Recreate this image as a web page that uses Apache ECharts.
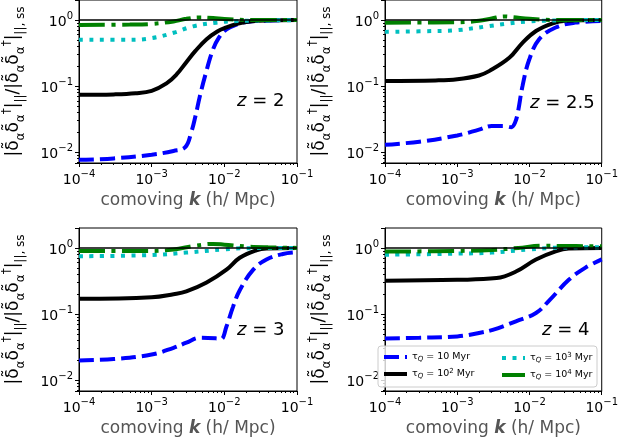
<!DOCTYPE html>
<html><head><meta charset="utf-8">
<script src="https://cdn.jsdelivr.net/npm/echarts@6/dist/echarts.min.js"></script>
<style>html,body{margin:0;padding:0;background:#fff}#c{width:621px;height:448px}</style>
</head><body><div id="c"></div>
<script>
// ---- data (k in h/Mpc, ratio values) ----
const zLabels = ['2', '2.5', '3', '4'];
const xTicks = [1e-4, 1e-3, 1e-2, 1e-1];
const yTicks = [1e-2, 1e-1, 1];

// z = 2
const k_z2_blue = [1e-4, 3e-4, 1e-3, 2e-3, 2.9e-3, 3.5e-3, 4e-3, 4.6e-3, 5.5e-3, 7e-3, 8.5e-3, 1.07e-2, 1.5e-2, 2e-2, 3e-2, 1e-1];
const v_z2_blue = [0.0077, 0.0081, 0.0092, 0.0105, 0.012, 0.02, 0.035, 0.07, 0.15, 0.36, 0.55, 0.72, 0.86, 0.93, 0.97, 1.0];
const k_z2_black = [1e-4, 3e-4, 6e-4, 1e-3, 1.6e-3, 2.2e-3, 3e-3, 4e-3, 5.7e-3, 8e-3, 1.07e-2, 1.5e-2, 2e-2, 3e-2, 5e-2, 1e-1];
const v_z2_black = [0.074, 0.075, 0.078, 0.085, 0.11, 0.15, 0.23, 0.34, 0.51, 0.67, 0.77, 0.87, 0.93, 0.97, 0.99, 1.0];
const k_z2_cyan = [1e-4, 5e-4, 1e-3, 2e-3, 3.7e-3, 7.8e-3, 1.5e-2, 3e-2, 1e-1];
const v_z2_cyan = [0.5, 0.5, 0.53, 0.64, 0.8, 0.91, 0.96, 0.98, 0.99];
const k_z2_green = [1e-4, 5e-4, 1e-3, 2e-3, 3e-3, 4.5e-3, 7e-3, 1e-2, 2e-2, 1e-1];
const v_z2_green = [0.84, 0.85, 0.87, 0.95, 1.04, 1.09, 1.07, 1.03, 1.0, 1.0];

// z = 2.5
const k_z25_blue = [1e-4, 3e-4, 1e-3, 2e-3, 3e-3, 4.5e-3, 5.6e-3, 6.3e-3, 6.9e-3, 8e-3, 9.9e-3, 1.36e-2, 2.3e-2, 4.3e-2, 1e-1];
const v_z25_blue = [0.013, 0.0145, 0.018, 0.022, 0.025, 0.025, 0.024, 0.028, 0.04, 0.1, 0.25, 0.51, 0.77, 0.91, 0.96];
const k_z25_black = [1e-4, 5e-4, 1e-3, 2e-3, 2.8e-3, 5.3e-3, 8e-3, 1.23e-2, 2.1e-2, 3.2e-2, 1e-1];
const v_z25_black = [0.12, 0.122, 0.127, 0.145, 0.17, 0.27, 0.45, 0.68, 0.89, 0.97, 1.0];
const k_z25_cyan = [1e-4, 5e-4, 1e-3, 2.8e-3, 5.3e-3, 9.9e-3, 2e-2, 1e-1];
const v_z25_cyan = [0.66, 0.68, 0.7, 0.81, 0.89, 0.95, 0.98, 1.0];
const k_z25_green = [1e-4, 1e-3, 2e-3, 3e-3, 4.5e-3, 6e-3, 1e-2, 2e-2, 1e-1];
const v_z25_green = [0.91, 0.92, 0.97, 1.05, 1.13, 1.1, 1.04, 1.0, 1.0];

// z = 3
const k_z3_blue = [1e-4, 3e-4, 1e-3, 2e-3, 3e-3, 4.6e-3, 7.8e-3, 9e-3, 1.07e-2, 1.32e-2, 1.63e-2, 2.5e-2, 3.8e-2, 6.4e-2, 1e-1];
const v_z3_blue = [0.02, 0.021, 0.0245, 0.031, 0.037, 0.044, 0.043, 0.042, 0.065, 0.13, 0.23, 0.47, 0.67, 0.81, 0.86];
const k_z3_black = [1e-4, 1e-3, 2e-3, 3e-3, 5.7e-3, 1.07e-2, 1.63e-2, 2.75e-2, 3.8e-2, 1e-1];
const v_z3_black = [0.17, 0.18, 0.2, 0.22, 0.3, 0.47, 0.71, 0.92, 0.98, 1.0];
const k_z3_cyan = [1e-4, 1e-3, 3e-3, 1e-2, 2e-2, 1e-1];
const v_z3_cyan = [0.75, 0.78, 0.85, 0.95, 0.99, 1.0];
const k_z3_green = [1e-4, 1e-3, 2e-3, 4e-3, 7e-3, 1e-2, 2e-2, 4e-2, 1e-1];
const v_z3_green = [0.9, 0.9, 0.95, 1.08, 1.15, 1.12, 1.05, 1.02, 1.0];

// z = 4
const k_z4_blue = [1e-4, 3e-4, 1e-3, 2e-3, 3.1e-3, 6.5e-3, 1.23e-2, 1.87e-2, 3.5e-2, 5.9e-2, 1e-1];
const v_z4_blue = [0.043, 0.044, 0.046, 0.052, 0.058, 0.078, 0.104, 0.16, 0.33, 0.5, 0.67];
const k_z4_black = [1e-4, 1e-3, 3.5e-3, 6.5e-3, 1.23e-2, 2.3e-2, 3.5e-2, 1e-1];
const v_z4_black = [0.32, 0.33, 0.35, 0.44, 0.67, 0.89, 0.98, 1.0];
const k_z4_cyan = [1e-4, 1e-3, 3e-3, 1e-2, 2e-2, 5e-2, 1e-1];
const v_z4_cyan = [0.79, 0.82, 0.85, 0.95, 1.0, 1.02, 1.02];
const k_z4_green = [1e-4, 1e-3, 3e-3, 7e-3, 1.5e-2, 3e-2, 1e-1];
const v_z4_green = [0.88, 0.9, 0.93, 1.0, 1.08, 1.07, 1.06];

const seriesNames = ['τQ10', 'τQ100', 'τQ1000', 'τQ10000'];
const legendText = {
  'τQ10': '{a|τ}{q|Q}{a| = 10 Myr}',
  'τQ100': '{a|τ}{q|Q}{a| = 10}{p|2}{a| Myr}',
  'τQ1000': '{a|τ}{q|Q}{a| = 10}{p|3}{a| Myr}',
  'τQ10000': '{a|τ}{q|Q}{a| = 10}{p|4}{a| Myr}'
};

const panels = [
  [[k_z2_blue, v_z2_blue], [k_z2_black, v_z2_black], [k_z2_cyan, v_z2_cyan], [k_z2_green, v_z2_green]],
  [[k_z25_blue, v_z25_blue], [k_z25_black, v_z25_black], [k_z25_cyan, v_z25_cyan], [k_z25_green, v_z25_green]],
  [[k_z3_blue, v_z3_blue], [k_z3_black, v_z3_black], [k_z3_cyan, v_z3_cyan], [k_z3_green, v_z3_green]],
  [[k_z4_blue, v_z4_blue], [k_z4_black, v_z4_black], [k_z4_cyan, v_z4_cyan], [k_z4_green, v_z4_green]]
];

// ---- styles / layout ----
const FONT = 'DejaVu Sans';
const styles = [
  {color: '#0000ff', width: 4, type: [15, 6]},
  {color: '#000000', width: 4, type: 'solid'},
  {color: '#00bfbf', width: 4, type: [4, 6.5]},
  {color: '#008000', width: 4, type: [26, 6.5, 4, 6.5]}
];
const grids = [
  {left: 79, top: 0, width: 218, height: 163},
  {left: 385, top: 0, width: 218, height: 163},
  {left: 79, top: 228, width: 218, height: 163},
  {left: 385, top: 228, width: 218, height: 163}
];
const zPos = [[237, 101], [530, 103], [237, 330], [542, 330]];

function powLabel(v) {
  const e = Math.log10(v);
  const r = Math.round(e);
  if (Math.abs(e - r) > 1e-6) return '';
  return '{b|10}{s|' + (r < 0 ? '−' + (-r) : r) + '}';
}
const tickRich = {
  b: {fontSize: 14, fontFamily: FONT, color: '#000', lineHeight: 18, verticalAlign: 'bottom'},
  s: {fontSize: 10, fontFamily: FONT, color: '#000', lineHeight: 18, verticalAlign: 'top'}
};
const yName = '{a||δ̃}{s|α}{a|δ̃}{s|α}{p|†}{a||}{s|||}{a|/|δ̃}{s|α}{a|δ̃}{s|α}{p|†}{a||}{s|||, ss}';
const yNameRich = {
  a: {fontSize: 17, fontFamily: FONT, color: '#000', lineHeight: 26, verticalAlign: 'middle'},
  s: {fontSize: 12, fontFamily: FONT, color: '#000', lineHeight: 26, verticalAlign: 'bottom'},
  p: {fontSize: 12, fontFamily: FONT, color: '#000', lineHeight: 26, verticalAlign: 'top'}
};
const legendRich = {
  a: {fontSize: 9.5, fontFamily: FONT, color: '#000', lineHeight: 12},
  q: {fontSize: 7, fontFamily: FONT, color: '#000', fontStyle: 'italic', verticalAlign: 'bottom', lineHeight: 12},
  p: {fontSize: 7, fontFamily: FONT, color: '#000', verticalAlign: 'top', lineHeight: 12}
};

const option = {
  animation: false,
  backgroundColor: '#fff',
  grid: grids.map(g => Object.assign({show: true, borderColor: '#000', borderWidth: 1, backgroundColor: 'transparent'}, g)),
  xAxis: grids.map((g, i) => ({
    type: 'log', gridIndex: i, min: xTicks[0], max: xTicks[xTicks.length - 1], logBase: 10,
    axisLine: {show: true, lineStyle: {color: '#000', width: 1}},
    axisTick: {show: true, length: 4, lineStyle: {color: '#000'}},
    minorTick: {show: true, splitNumber: 9, length: 2, lineStyle: {color: '#000'}},
    splitLine: {show: false},
    axisLabel: {formatter: powLabel, rich: tickRich, margin: 6},
    name: '{g|comoving }{k|k}{g| (h/ Mpc)}', nameLocation: 'middle', nameGap: 29,
    nameTextStyle: {rich: {
      g: {fontSize: 17, fontFamily: FONT, color: '#555'},
      k: {fontSize: 17, fontFamily: FONT, color: '#555', fontWeight: 'bold', fontStyle: 'italic'}
    }}
  })),
  yAxis: grids.map((g, i) => ({
    type: 'log', gridIndex: i, min: 0.0069, max: 2, logBase: 10,
    axisLine: {show: true, lineStyle: {color: '#000', width: 1}},
    axisTick: {show: true, length: 4, lineStyle: {color: '#000'}},
    minorTick: {show: true, splitNumber: 9, length: 2, lineStyle: {color: '#000'}},
    splitLine: {show: false},
    axisLabel: {formatter: powLabel, rich: tickRich, margin: 6, showMinLabel: false, showMaxLabel: false},
    name: yName, nameLocation: 'middle', nameRotate: 90, nameGap: 52,
    nameTextStyle: {rich: yNameRich}
  })),
  legend: [
    {left: 382, top: 352, orient: 'vertical', itemGap: 5, itemWidth: 23, itemHeight: 10,
     itemStyle: {opacity: 0}, lineStyle: {width: 4}, padding: 0,
     data: [seriesNames[0], seriesNames[1]], formatter: n => legendText[n],
     textStyle: {rich: legendRich}},
    {left: 500, top: 352, orient: 'vertical', itemGap: 5, itemWidth: 23, itemHeight: 10,
     itemStyle: {opacity: 0}, lineStyle: {width: 4}, padding: 0,
     data: [seriesNames[2], seriesNames[3]], formatter: n => legendText[n],
     textStyle: {rich: legendRich}}
  ],
  graphic: [
    {type: 'rect', z: 3, shape: {x: 378, y: 346, width: 219, height: 41, r: 3},
     style: {fill: 'rgba(255,255,255,0.8)', stroke: '#cccccc', lineWidth: 1}}
  ].concat(zLabels.map((z, i) => ({
    type: 'text', z: 10, x: zPos[i][0], y: zPos[i][1],
    style: {text: '{i|z}{n| = ' + z + '}', textVerticalAlign: 'middle', textAlign: 'left',
      rich: {i: {fontSize: 18, fontFamily: FONT, fontStyle: 'italic', fill: '#000'},
             n: {fontSize: 18, fontFamily: FONT, fill: '#000'}}}
  }))),
  series: []
};

panels.forEach((pan, pi) => {
  pan.forEach((kv, si) => {
    const s = {
      type: 'line', name: seriesNames[si], xAxisIndex: pi, yAxisIndex: pi,
      data: kv[0].map((k, j) => [k, kv[1][j]]),
      showSymbol: false, symbol: 'none', smooth: 0.4,
      lineStyle: styles[si], itemStyle: {color: styles[si].color}, z: 2 + si
    };
    if (si === 1) {
      s.markLine = {silent: true, symbol: 'none', label: {show: false},
        lineStyle: {color: '#000', width: 1.5, type: 'solid'}, data: [{yAxis: 1}], z: 10, animation: false};
    }
    option.series.push(s);
  });
});

const chart = echarts.init(document.getElementById('c'), null, {renderer: 'canvas'});
chart.setOption(option);
</script></body></html>
